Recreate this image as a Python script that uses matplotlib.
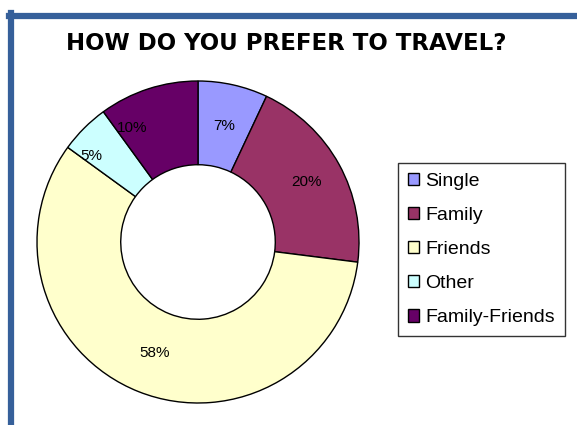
import numpy as np
import matplotlib.pyplot as plt
from matplotlib.lines import Line2D

labels = ["Single", "Family", "Friends", "Other", "Family-Friends"]
shares = [7, 20, 58, 5, 10]
colors = ["#9999FF", "#993366", "#FFFFCC", "#CCFFFF", "#660066"]

plt.rcParams['font.family'] = ['Liberation Sans', 'DejaVu Sans']

W, H = 577, 425
fig = plt.figure(figsize=(W / 100, H / 100), dpi=100)

# pie axes: center (198, 242) px, radius 161 px
cx, cy, r = 198, 242, 161
ax = fig.add_axes([(cx - r) / W, (H - cy - r) / H, 2 * r / W, 2 * r / H])
wedges, texts = ax.pie(shares, colors=colors, startangle=90, counterclock=False,
                       labels=[f"{s}%" for s in shares], labeldistance=0.74,
                       wedgeprops=dict(width=0.52, edgecolor="black", linewidth=1.0),
                       textprops=dict(fontsize=11, color="black"))
# excel nudges the small-slice labels outward a bit
label_r = [0.74, 0.77, 0.74, 0.85, 0.82]
label_shift = [0, 0, 0, 6, 12]  # degrees, counter-clockwise
for t, w, lr, sh in zip(texts, wedges, label_r, label_shift):
    ang = np.deg2rad((w.theta1 + w.theta2) / 2 + sh)
    t.set_position((lr * np.cos(ang), lr * np.sin(ang)))
    t.set_ha("center")
    t.set_va("center")
ax.set_xlim(-1, 1)
ax.set_ylim(-1, 1)
ax.axis("off")

fig.text(286 / W, 1 - 43 / H, "HOW DO YOU PREFER TO TRAVEL?", ha="center", va="center",
         fontsize=16.5, fontweight="bold", family=["DejaVu Sans"])

# blue frame along left and top
fig.add_artist(Line2D([11.5 / W, 11.5 / W], [0, 1 - 13 / H], color="#36609A", lw=4.5,
                      transform=fig.transFigure))
fig.add_artist(Line2D([9 / W, 1], [1 - 16 / H, 1 - 16 / H], color="#36609A", lw=4.5,
                      transform=fig.transFigure))

leg = fig.legend(wedges, labels, loc="upper left", bbox_to_anchor=(398 / W, 1 - 163 / H),
                 borderaxespad=0, frameon=True, fancybox=False, fontsize=14,
                 handlelength=0.6, handleheight=0.6, handletextpad=0.3,
                 labelspacing=0.88, borderpad=0.5)
leg.get_frame().set_edgecolor("black")
leg.get_frame().set_linewidth(1.0)

fig.savefig("out.png", dpi=100)
